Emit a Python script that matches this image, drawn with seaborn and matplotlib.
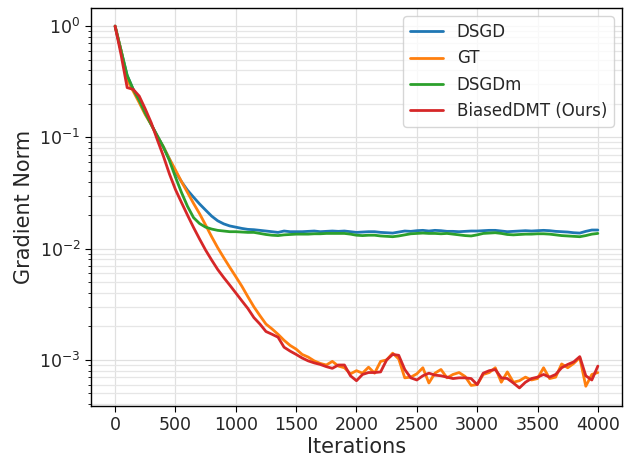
import numpy as np
import pandas as pd
import seaborn as sns
import matplotlib
matplotlib.use('Agg')
import matplotlib.pyplot as plt

# iterations (every 50 steps)
iterations = np.arange(0, 4001, 50)

dsgd = [1.0, 0.6, 0.36, 0.27, 0.215, 0.165, 0.13, 0.103, 0.082, 0.064,
        0.049, 0.040, 0.0335, 0.029, 0.0252, 0.0222, 0.0196, 0.0178, 0.0167, 0.016,
        0.0156, 0.0152, 0.0149, 0.0148, 0.0146, 0.0144, 0.0142, 0.014, 0.0144, 0.0142,
        0.0142, 0.0142, 0.0143, 0.0144, 0.0142, 0.0143, 0.0144, 0.0143, 0.0144, 0.0142,
        0.014, 0.0141, 0.0142, 0.0142, 0.014, 0.0139, 0.0138, 0.0141, 0.0144, 0.0143,
        0.0145, 0.0146, 0.0144, 0.0146, 0.0145, 0.0143, 0.0143, 0.0142, 0.0143, 0.0144,
        0.0144, 0.0145, 0.0146, 0.0146, 0.0144, 0.0142, 0.0143, 0.0144, 0.0145, 0.0144,
        0.0145, 0.0146, 0.0145, 0.0143, 0.0142, 0.0141, 0.0139, 0.0138, 0.0143, 0.0147,
        0.0147]

gt = [1.0, 0.6, 0.33, 0.26, 0.205, 0.16, 0.13, 0.102, 0.082, 0.064,
      0.051, 0.040, 0.032, 0.0255, 0.0206, 0.0163, 0.0128, 0.0102, 0.0083, 0.0068,
      0.0056, 0.0046, 0.0037, 0.003, 0.0025, 0.0021, 0.0019, 0.0017, 0.0015, 0.00135,
      0.00125, 0.00112, 0.00106, 0.00098, 0.00093, 0.0009, 0.00097, 0.00088, 0.00085, 0.00075,
      0.0008, 0.00076, 0.00086, 0.00076, 0.00097, 0.001, 0.00115, 0.00102, 0.00069, 0.0007,
      0.00075, 0.00085, 0.00062, 0.00076, 0.00082, 0.00069, 0.00074, 0.00077, 0.00071, 0.00059,
      0.0006, 0.00074, 0.00077, 0.00085, 0.00063, 0.00078, 0.00063, 0.00065, 0.0007, 0.00066,
      0.00068, 0.00085, 0.00068, 0.0007, 0.00092, 0.00085, 0.00093, 0.00105, 0.00058, 0.00074,
      0.00077]

dsgdm = [1.0, 0.6, 0.36, 0.27, 0.215, 0.165, 0.13, 0.103, 0.082, 0.062,
         0.044, 0.032, 0.024, 0.019, 0.0168, 0.0156, 0.015, 0.0146, 0.0144, 0.0142,
         0.0142, 0.0141, 0.014, 0.014, 0.0137, 0.0134, 0.0132, 0.0131, 0.0133, 0.0134,
         0.0135, 0.0135, 0.0135, 0.0136, 0.0136, 0.0137, 0.0137, 0.0137, 0.0137, 0.0135,
         0.0132, 0.0131, 0.0132, 0.0132, 0.013, 0.0129, 0.0128, 0.013, 0.0133, 0.0136,
         0.0137, 0.0138, 0.0137, 0.0137, 0.0136, 0.0137, 0.0135, 0.0133, 0.0131, 0.013,
         0.0133, 0.0137, 0.0138, 0.0139, 0.0137, 0.0134, 0.0133, 0.0134, 0.0135, 0.0135,
         0.0136, 0.0136, 0.0135, 0.0133, 0.0131, 0.013, 0.0129, 0.0128, 0.0131, 0.0135,
         0.0137]

biased_dmt = [1.0, 0.55, 0.28, 0.27, 0.235, 0.18, 0.135, 0.095, 0.068, 0.047,
              0.034, 0.026, 0.020, 0.0155, 0.0122, 0.0097, 0.0079, 0.0065, 0.0055, 0.0047,
              0.0040, 0.0034, 0.0029, 0.0024, 0.0021, 0.0018, 0.0017, 0.0016, 0.0013, 0.0012,
              0.00112, 0.00104, 0.00098, 0.00094, 0.00091, 0.00087, 0.00084, 0.0009, 0.0009, 0.00072,
              0.00065, 0.00074, 0.00077, 0.00077, 0.00078, 0.001, 0.00112, 0.0011, 0.00082, 0.00069,
              0.00066, 0.00072, 0.00076, 0.00073, 0.00072, 0.0007, 0.00068, 0.00069, 0.00069, 0.00068,
              0.0006, 0.00076, 0.0008, 0.00082, 0.00069, 0.00068, 0.00062, 0.00056, 0.00063, 0.00068,
              0.0007, 0.00074, 0.0007, 0.00074, 0.00085, 0.00091, 0.00096, 0.00107, 0.00072, 0.00066,
              0.00088]

labels = ['DSGD', 'GT', 'DSGDm', 'BiasedDMT (Ours)']
series = [dsgd, gt, dsgdm, biased_dmt]

sns.set_style('whitegrid')
plt.rcParams['font.family'] = ['DejaVu Sans']

fig, ax = plt.subplots(figsize=(6.36, 4.58), dpi=100)
fig.subplots_adjust(left=0.143, right=0.978, bottom=0.1135, top=0.9825)

palette = sns.color_palette('tab10')
for i, (lab, vals) in enumerate(zip(labels, series)):
    sns.lineplot(x=iterations, y=vals, ax=ax, label=lab, color=palette[i], linewidth=2)

ax.set_yscale('log')
ax.set_xticks(np.arange(0, 4001, 500))
ax.set_xlabel('Iterations', fontsize=15, labelpad=2)
ax.set_ylabel('Gradient Norm', fontsize=15)
ax.tick_params(axis='both', which='major', labelsize=12.5, length=4, color='black',
               left=True, bottom=True)
ax.tick_params(axis='y', which='minor', length=2.5, color='black', left=True)
ax.grid(True, which='major', color='#e0e0e0', linewidth=0.9)
ax.grid(True, which='minor', axis='y', color='#e6e6e6', linewidth=0.9)
for sp in ax.spines.values():
    sp.set_color('black')
    sp.set_linewidth(1.0)

ax.legend(loc='upper right', fontsize=12, frameon=True, edgecolor='#cccccc', handlelength=2)

plt.savefig('out.png', dpi=100)
